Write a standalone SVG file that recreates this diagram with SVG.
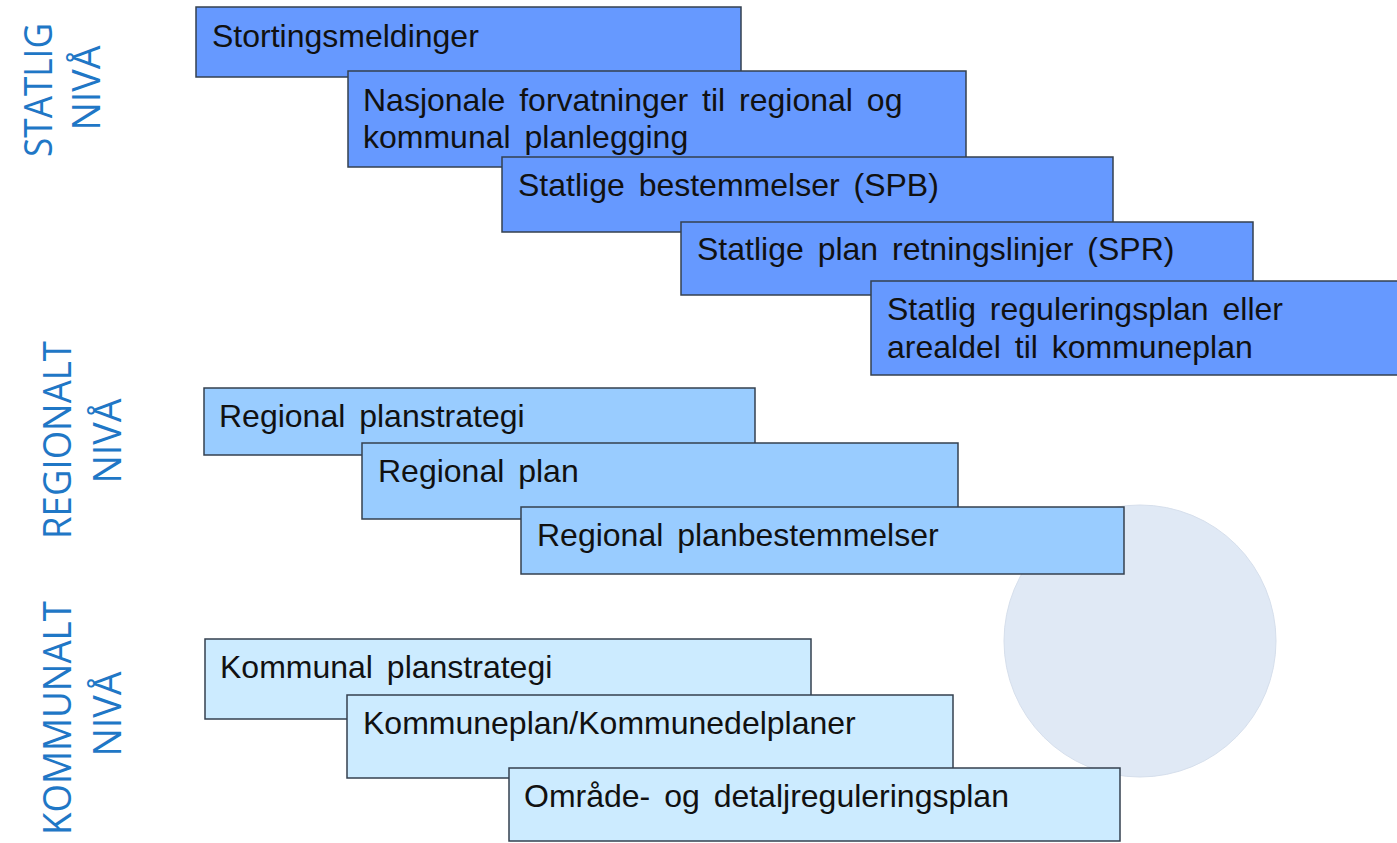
<svg xmlns="http://www.w3.org/2000/svg" width="1397" height="843" viewBox="0 0 1397 843">
<style>
.box rect{stroke:#34404f;stroke-width:1.5}
.st rect{fill:#6699ff}
.rg rect{fill:#99ccff}
.km rect{fill:#ccebff}
.box text{font-family:"Liberation Sans",Arial,sans-serif;font-size:32px;fill:#111;word-spacing:5px}
.lvl{font-family:"Open Sans","Noto Sans",sans-serif;font-size:39px;fill:#1f77c6;text-anchor:middle}
</style>
<rect width="1397" height="843" fill="#fff"/>
<g id="labels">
<text class="lvl" transform="translate(52,90) rotate(-90)" textLength="134" lengthAdjust="spacingAndGlyphs">STATLIG</text>
<text class="lvl" transform="translate(100,88) rotate(-90)" textLength="85" lengthAdjust="spacingAndGlyphs">NIVÅ</text>
<text class="lvl" transform="translate(71,440) rotate(-90)" textLength="198" lengthAdjust="spacingAndGlyphs">REGIONALT</text>
<text class="lvl" transform="translate(121,441) rotate(-90)" textLength="85" lengthAdjust="spacingAndGlyphs">NIVÅ</text>
<text class="lvl" transform="translate(71,718) rotate(-90)" textLength="234" lengthAdjust="spacingAndGlyphs">KOMMUNALT</text>
<text class="lvl" transform="translate(121,714) rotate(-90)" textLength="85" lengthAdjust="spacingAndGlyphs">NIVÅ</text>
</g>
<g id="circle"><circle cx="1140" cy="641" r="136" fill="#e0e9f5" stroke="#d6dfec" stroke-width="1"/></g>
<g id="connectors"></g>
<g id="n1" class="box st"><rect x="196" y="7" width="545" height="70"/><text x="212" y="47">Stortingsmeldinger</text></g>
<g id="n2" class="box st"><rect x="348" y="71" width="618" height="96"/><text x="363" y="111">Nasjonale forvatninger til regional og</text><text x="363" y="148">kommunal planlegging</text></g>
<g id="n3" class="box st"><rect x="502" y="157" width="611" height="75"/><text x="518" y="196">Statlige bestemmelser (SPB)</text></g>
<g id="n4" class="box st"><rect x="681" y="222" width="572" height="73"/><text x="697" y="260">Statlige plan retningslinjer (SPR)</text></g>
<g id="n5" class="box st"><rect x="871" y="281" width="540" height="94"/><text x="887" y="320">Statlig reguleringsplan eller</text><text x="887" y="358">arealdel til kommuneplan</text></g>
<g id="r1" class="box rg"><rect x="204" y="388" width="551" height="67"/><text x="219" y="427">Regional planstrategi</text></g>
<g id="r2" class="box rg"><rect x="362" y="443" width="596" height="76"/><text x="378" y="482">Regional plan</text></g>
<g id="r3" class="box rg"><rect x="521" y="507" width="603" height="67"/><text x="537" y="546">Regional planbestemmelser</text></g>
<g id="k1" class="box km"><rect x="205" y="639" width="606" height="80"/><text x="220" y="678">Kommunal planstrategi</text></g>
<g id="k2" class="box km"><rect x="347" y="695" width="606" height="83"/><text x="363" y="734">Kommuneplan/Kommunedelplaner</text></g>
<g id="k3" class="box km"><rect x="509" y="768" width="611" height="73"/><text x="524" y="807">Område- og detaljreguleringsplan</text></g>
</svg>
